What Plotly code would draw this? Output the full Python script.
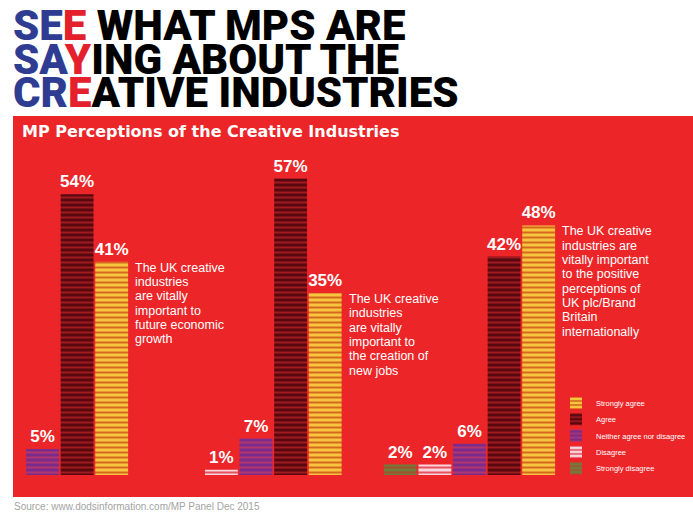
import plotly.graph_objects as go

W, H = 693, 515

# ---------------- data ----------------
groups = [
    "The UK creative industries are vitally important to future economic growth",
    "The UK creative industries are vitally important to the creation of new jobs",
    "The UK creative industries are vitally important to the positive perceptions of UK plc/Brand Britain internationally",
]
group_text_lines = [
    ["The UK creative", "industries", "are vitally", "important to", "future economic", "growth"],
    ["The UK creative", "industries", "are vitally", "important to", "the creation of", "new jobs"],
    ["The UK creative", "industries are", "vitally important", "to the positive", "perceptions of",
     "UK plc/Brand", "Britain", "internationally"],
]
categories = ["Strongly disagree", "Disagree", "Neither agree nor disagree", "Agree", "Strongly agree"]
strongly_disagree = [None, None, 2]
disagree = [None, 1, 2]
neither = [5, 7, 6]
agree = [54, 57, 42]
strongly_agree = [41, 35, 48]
series = [strongly_disagree, disagree, neither, agree, strongly_agree]

# ---------------- styles ----------------
bg_colors = ["#6f7c3b", "#f7d6dd", "#7a2b8b", "#5a0810", "#f8c53e"]
fg_colors = ["#a4522e", "#e8505e", "#b4356e", "#a01a1f", "#d4681f"]
RED = "#ec2528"
BLUE = "#2e3c92"
TRED = "#e3202b"

GROUP_STEP = 6.17
PITCH = 34.6           # px per slot
X0_PX = 42.5           # pixel centre of slot 2 (group 1, "Neither")
BASE_PX = 475          # pixel of value 0
PX_PER = 5.2           # px per percentage point

x_range = [2 - X0_PX / PITCH, 2 + (W - X0_PX) / PITCH]
y_range = [-(H - BASE_PX) / PX_PER, BASE_PX / PX_PER]

# legend rows (pixel centre of each row, top = Strongly agree)
legend_rows_px = [403, 419.3, 435.6, 451.9, 468.2]

fig = go.Figure()
layout_legends = {}
for ci, cat in enumerate(categories):
    vals = series[ci]
    xs = [g * GROUP_STEP + ci for g in range(len(groups))]
    lg_name = "legend" if ci == 0 else f"legend{ci + 1}"
    fig.add_trace(go.Bar(
        x=xs, y=vals, name=cat, width=0.95, legend=lg_name,
        text=[f"{v}%" if v is not None else "" for v in vals],
        textposition="outside", cliponaxis=False, constraintext="none",
        textfont=dict(family="Liberation Sans", size=17, color="white", weight="bold"),
        marker=dict(
            color=bg_colors[ci],
            line=dict(width=0),
            pattern=dict(shape="-", fgcolor=fg_colors[ci], bgcolor=bg_colors[ci],
                         size=5, solidity=0.4, fillmode="replace"),
        ),
        hoverinfo="skip",
    ))
    row = len(categories) - 1 - ci
    layout_legends[lg_name] = dict(
        x=556 / W, y=1 - legend_rows_px[row] / H, xanchor="left", yanchor="middle",
        bgcolor="rgba(0,0,0,0)", borderwidth=0,
        font=dict(family="Liberation Sans", size=7.5, color="white"),
        itemwidth=30,
    )

annotations = []
# description text beside the "Strongly agree" bar of each group
for g, lines in enumerate(group_text_lines):
    xa = g * GROUP_STEP + 4 + 0.475
    ya = strongly_agree[g]
    for li, line in enumerate(lines):
        annotations.append(dict(
            x=xa, y=ya, xref="x", yref="y", text=line, showarrow=False,
            xanchor="left", yanchor="top", xshift=5, yshift=3 - li * 14.3,
            font=dict(family="Liberation Sans", size=12.5, color="white"),
        ))

# title lines
title_lines = [
    f"<span style='color:{BLUE}'>SE</span><span style='color:{TRED}'>E</span> WHAT MPS ARE",
    f"<span style='color:{BLUE}'>SA</span><span style='color:{TRED}'>Y</span>ING ABOUT THE",
    f"<span style='color:{BLUE}'>CR</span><span style='color:{TRED}'>E</span>ATIVE INDUSTRIES",
]
for i, t in enumerate(title_lines):
    annotations.append(dict(
        x=11 / W, y=1 - (26 + i * 33.5) / H, xref="paper", yref="paper", text=t,
        showarrow=False, xanchor="left", yanchor="middle",
        font=dict(family="Roboto", size=42, color="black", weight=900),
    ))

annotations.append(dict(
    x=20 / W, y=1 - 131 / H, xref="paper", yref="paper",
    text="MP Perceptions of the Creative Industries", showarrow=False,
    xanchor="left", yanchor="middle",
    font=dict(family="DejaVu Sans", size=16, color="white", weight="bold"),
))
annotations.append(dict(
    x=12 / W, y=1 - 506 / H, xref="paper", yref="paper",
    text="Source: www.dodsinformation.com/MP Panel Dec 2015", showarrow=False,
    xanchor="left", yanchor="middle",
    font=dict(family="Liberation Sans", size=10, color="#a3a3a3"),
))

fig.update_layout(
    width=W, height=H,
    margin=dict(l=0, r=0, t=0, b=0),
    paper_bgcolor="white", plot_bgcolor="rgba(0,0,0,0)",
    barmode="overlay",
    xaxis=dict(visible=False, range=x_range, fixedrange=True),
    yaxis=dict(visible=False, range=y_range, fixedrange=True),
    shapes=[dict(type="rect", xref="paper", yref="paper", layer="below",
                 x0=13 / W, x1=1, y0=1 - 497 / H, y1=1 - 116 / H,
                 fillcolor=RED, line=dict(width=0))],
    annotations=annotations,
    showlegend=True,
    **layout_legends,
)

fig.write_html(
    "out.html",
    config={"displayModeBar": False},
    post_script="document.body.style.margin='0';document.body.style.overflow='hidden';",
)
